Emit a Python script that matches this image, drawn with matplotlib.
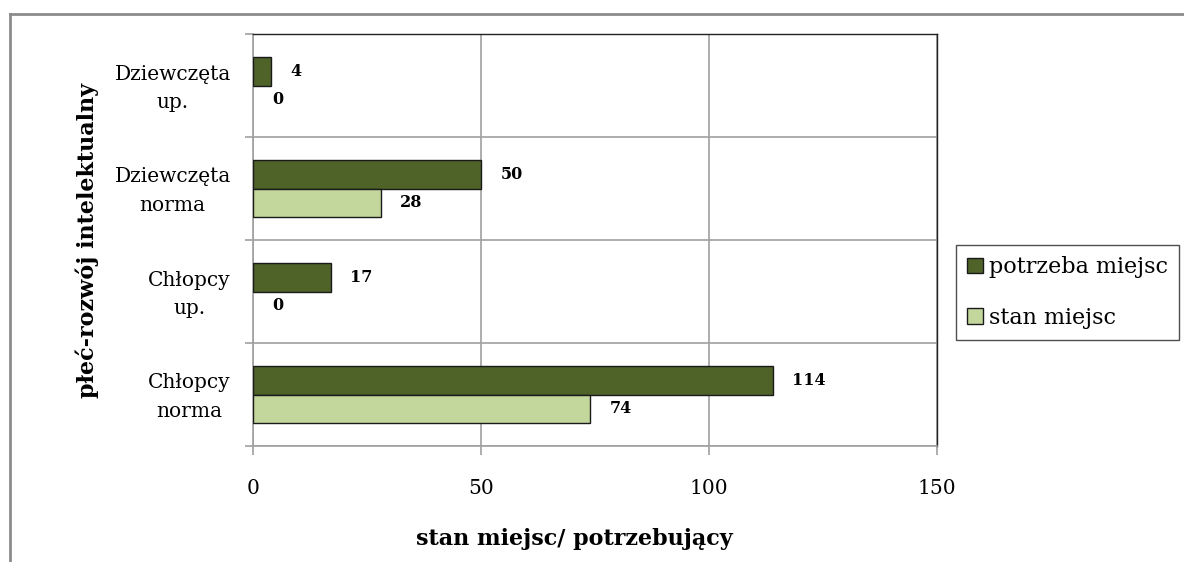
import matplotlib
matplotlib.use('Agg')
import matplotlib.pyplot as plt
from matplotlib.lines import Line2D
from matplotlib.transforms import ScaledTranslation
import numpy as np

# data (bottom to top, as drawn)
categories = ['Chłopcy\nnorma', 'Chłopcy\nup.', 'Dziewczęta\nnorma', 'Dziewczęta\nup.']
potrzeba = [114, 17, 50, 4]
stan = [74, 0, 28, 0]
series_names = ['potrzeba miejsc', 'stan miejsc']
x_ticks = [0, 50, 100, 150]

plt.rcParams['font.family'] = ['DejaVu Serif']

fig = plt.figure(figsize=(11.84, 5.62), dpi=100)
ax = fig.add_axes([253 / 1184, 1 - 446 / 562, 684 / 1184, 412 / 562])

pos = np.arange(len(categories))
h = 0.28
dark = '#4F6228'
light = '#C3D69B'
grid_c = '#a0a0a0'
# zero-length bars get no outline, as in the original
ax.barh(pos + h / 2, potrzeba, height=h, color=dark, edgecolor='#1a1a1a',
        linewidth=[1 if v > 0 else 0 for v in potrzeba], label=series_names[0], zorder=3)
ax.barh(pos - h / 2, stan, height=h, color=light, edgecolor='#1a1a1a',
        linewidth=[1 if v > 0 else 0 for v in stan], label=series_names[1], zorder=3)

for y, v in zip(pos + h / 2, potrzeba):
    ax.annotate(str(v), (v, y), xytext=(14, 0), textcoords='offset points',
                ha='left', va='center', fontsize=11.5, fontweight='bold')
for y, v in zip(pos - h / 2, stan):
    ax.annotate(str(v), (v, y), xytext=(14, 0), textcoords='offset points',
                ha='left', va='center', fontsize=11.5, fontweight='bold')

ax.set_xlim(0, 150)
ax.set_ylim(-0.5, len(categories) - 0.5)
ax.set_xticks(x_ticks)
ax.set_xticklabels([str(t) for t in x_ticks], fontsize=14.5)
ax.tick_params(axis='x', length=6.5, color=grid_c, width=1.2, pad=17)
ax.set_yticks(pos)
ax.set_yticklabels(categories, fontsize=14.5, ha='right', multialignment='center', linespacing=1.65)
ax.tick_params(axis='y', length=0, pad=16)
# nudge the two-line category labels up a little
for lab in ax.get_yticklabels():
    lab.set_transform(lab.get_transform() + ScaledTranslation(0, 0.04, fig.dpi_scale_trans))
ax.set_yticks(np.arange(-0.5, len(categories)), minor=True)
ax.tick_params(axis='y', which='minor', length=6, color=grid_c, width=1.2)
ax.grid(True, which='minor', axis='y', color=grid_c, linewidth=1.2, zorder=0)
ax.grid(True, which='major', axis='x', color=grid_c, linewidth=1.2, zorder=0)

for s in ['left', 'bottom']:
    ax.spines[s].set_color(grid_c)
    ax.spines[s].set_linewidth(1.2)
for s in ['top', 'right']:
    ax.spines[s].set_color('#222222')
    ax.spines[s].set_linewidth(1)

ax.set_xlabel('stan miejsc/ potrzebujący', fontsize=16, fontweight='bold')
ax.xaxis.set_label_coords(0.47, -0.2)
ax.set_ylabel('płeć-rozwój intelektualny', fontsize=16, fontweight='bold')
ax.yaxis.set_label_coords(-0.225, 0.5)

leg = fig.legend(loc='upper left', bbox_to_anchor=(956 / 1184, 1 - 245 / 562), fontsize=16,
                 frameon=True, fancybox=False, edgecolor='#222222', handlelength=0.7,
                 handleheight=0.7, handletextpad=0.3, labelspacing=1.3, borderaxespad=0,
                 borderpad=0.5)
leg.get_frame().set_linewidth(1)

# outer chart frame
fig.add_artist(Line2D([10 / 1184, 1], [1 - 14 / 562, 1 - 14 / 562], color='#8c8c8c', linewidth=2, transform=fig.transFigure))
fig.add_artist(Line2D([10 / 1184, 10 / 1184], [0, 1 - 14 / 562], color='#8c8c8c', linewidth=2, transform=fig.transFigure))

fig.savefig('out.png', dpi=100)
